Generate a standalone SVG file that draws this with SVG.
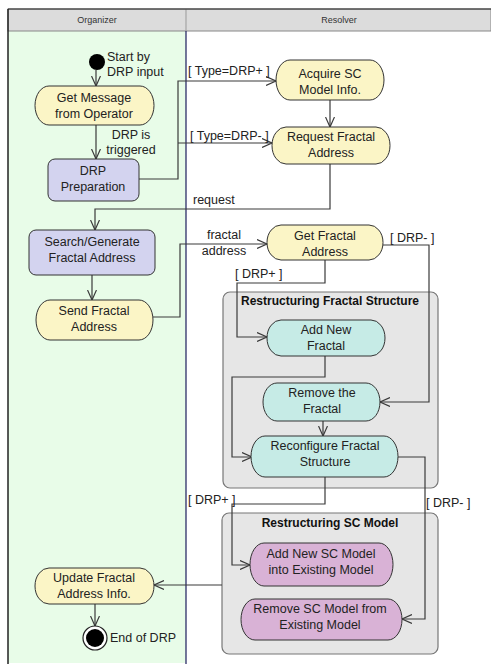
<svg xmlns="http://www.w3.org/2000/svg" width="491" height="664" viewBox="0 0 491 664">
  <defs>
    <marker id="arrow" markerUnits="userSpaceOnUse" markerWidth="12" markerHeight="10" refX="10" refY="5" orient="auto">
      <path d="M0,0.5 L10,5 L0,9.5" fill="none" stroke="#3a3a3a" stroke-width="1.2"/>
    </marker>
    <style>
      text { font-family: "Liberation Sans", Arial, sans-serif; font-size: 12.5px; fill: #222; }
      .c { text-anchor: middle; }
      .hdr { font-size: 9px; fill: #333; text-anchor: middle; }
      .title { font-weight: bold; font-size: 12px; text-anchor: middle; fill: #111; }
      .act { stroke: #333; stroke-width: 1; }
      .yel { fill: #fbf5c6; }
      .lav { fill: #d3d3ef; }
      .teal { fill: #c6ebe6; }
      .mauve { fill: #d9b2d6; }
      .box { fill: #e6e6e6; stroke: #777; stroke-width: 1.2; }
      #edges path { fill: none; stroke: #3a3a3a; stroke-width: 1.2; marker-end: url(#arrow); }
      #edges path.plain { marker-end: none; }
    </style>
  </defs>

  <!-- background and swimlanes -->
  <rect x="0" y="0" width="491" height="664" fill="#ffffff"/>
  <rect x="8" y="31" width="178" height="632" fill="#e8fce8"/>
  <rect x="8" y="9" width="483" height="22" fill="#dcdcdc" stroke="#888" stroke-width="1"/>
  <line x1="186" y1="9" x2="186" y2="31" stroke="#999" stroke-width="1"/>
  <line x1="186" y1="31" x2="186" y2="664" stroke="#1c1c5c" stroke-width="1.2"/>
  <line x1="8" y1="9" x2="8" y2="664" stroke="#222" stroke-width="1.5"/>
  <line x1="8" y1="9" x2="491" y2="9" stroke="#222" stroke-width="1"/>
  <text class="hdr" x="97" y="23">Organizer</text>
  <text class="hdr" x="339" y="23">Resolver</text>

  <!-- sub-activity containers -->
  <g id="restructuring-fractal">
    <rect class="box" x="223" y="292" width="215" height="196" rx="7"/>
    <text class="title" x="330" y="305">Restructuring Fractal Structure</text>
  </g>
  <g id="restructuring-sc">
    <rect class="box" x="222" y="513" width="216" height="141" rx="7"/>
    <text class="title" x="330" y="527">Restructuring SC Model</text>
  </g>

  <!-- connectors -->
  <g id="edges">
    <path d="M96,70 V86"/>
    <path d="M96,125 V159"/>
    <path d="M139,179 H178 V81 H276"/>
    <path d="M178,143 H272"/>
    <path d="M330,100 V127"/>
    <path d="M330,164 V209 H95 V230"/>
    <path d="M92,275 V300"/>
    <path d="M153,317 H180 V244 H267"/>
    <path d="M383,245 H429 V402 H380"/>
    <path d="M325,260 V283 H237 V337 H267"/>
    <path d="M325,356 V377 H232 V457 H252"/>
    <path d="M323,421 V436"/>
    <path d="M398,457 H425 V619 H402"/>
    <path d="M325,477 V504 H232 V565 H250"/>
    <path d="M222,585 H154"/>
    <path d="M95,604 V626"/>
  </g>

  <!-- connector labels -->
  <g id="labels">
    <text x="131" y="139" class="c">DRP is</text>
    <text x="131" y="154" class="c">triggered</text>
    <text x="188" y="75">[ Type=DRP+ ]</text>
    <text x="190" y="140">[ Type=DRP- ]</text>
    <text x="193" y="204">request</text>
    <text x="224" y="239" class="c">fractal</text>
    <text x="224" y="255" class="c">address</text>
    <text x="390" y="242">[ DRP- ]</text>
    <text x="235" y="278">[ DRP+ ]</text>
    <text x="188" y="504">[ DRP+ ]</text>
    <text x="426" y="507">[ DRP- ]</text>
  </g>

  <!-- start / end -->
  <g id="start">
    <circle cx="97" cy="62" r="8" fill="#000"/>
    <text x="107" y="61">Start by</text>
    <text x="107" y="76">DRP input</text>
  </g>
  <g id="end">
    <circle cx="95" cy="638" r="12" fill="#fff" stroke="#222" stroke-width="1.2"/>
    <circle cx="95" cy="638" r="9" fill="#000"/>
    <text x="110" y="642">End of DRP</text>
  </g>

  <!-- organizer activities -->
  <g id="get-message">
    <path class="act yel" d="M49,86 H140 A14,19.5 0 0 1 140,125 H49 A14,19.5 0 0 1 49,86 Z"/>
    <text class="c" x="94" y="102">Get Message</text>
    <text class="c" x="94" y="118">from Operator</text>
  </g>
  <g id="drp-preparation">
    <rect class="act lav" x="48" y="159" width="91" height="42" rx="7"/>
    <text class="c" x="93" y="175">DRP</text>
    <text class="c" x="93" y="191">Preparation</text>
  </g>
  <g id="search-generate">
    <rect class="act lav" x="29" y="230" width="126" height="45" rx="7"/>
    <text class="c" x="92" y="246">Search/Generate</text>
    <text class="c" x="92" y="262">Fractal Address</text>
  </g>
  <g id="send-fractal">
    <path class="act yel" d="M50,300 H139 A14,20 0 0 1 139,340 H50 A14,20 0 0 1 50,300 Z"/>
    <text class="c" x="94" y="315">Send Fractal</text>
    <text class="c" x="94" y="331">Address</text>
  </g>
  <g id="update-fractal">
    <path class="act yel" d="M49,568 H140 A14,18 0 0 1 140,604 H49 A14,18 0 0 1 49,568 Z"/>
    <text class="c" x="94" y="582">Update Fractal</text>
    <text class="c" x="94" y="598">Address Info.</text>
  </g>

  <!-- resolver activities -->
  <g id="acquire-sc">
    <path class="act yel" d="M290,60 H370 A14,20 0 0 1 370,100 H290 A14,20 0 0 1 290,60 Z"/>
    <text class="c" x="330" y="78">Acquire SC</text>
    <text class="c" x="330" y="94">Model Info.</text>
  </g>
  <g id="request-fractal">
    <path class="act yel" d="M286,127 H376 A14,18.5 0 0 1 376,164 H286 A14,18.5 0 0 1 286,127 Z"/>
    <text class="c" x="331" y="141">Request Fractal</text>
    <text class="c" x="331" y="157">Address</text>
  </g>
  <g id="get-fractal">
    <path class="act yel" d="M281,225 H369 A14,17.5 0 0 1 369,260 H281 A14,17.5 0 0 1 281,225 Z"/>
    <text class="c" x="325" y="240">Get Fractal</text>
    <text class="c" x="325" y="256">Address</text>
  </g>
  <g id="add-new-fractal">
    <path class="act teal" d="M281,320 H371 A14,18 0 0 1 371,356 H281 A14,18 0 0 1 281,320 Z"/>
    <text class="c" x="326" y="334">Add New</text>
    <text class="c" x="326" y="350">Fractal</text>
  </g>
  <g id="remove-fractal">
    <path class="act teal" d="M277,383 H366 A14,19 0 0 1 366,421 H277 A14,19 0 0 1 277,383 Z"/>
    <text class="c" x="322" y="397">Remove the</text>
    <text class="c" x="322" y="413">Fractal</text>
  </g>
  <g id="reconfigure-fractal">
    <path class="act teal" d="M265,436 H384 A14,20.5 0 0 1 384,477 H265 A14,20.5 0 0 1 265,436 Z"/>
    <text class="c" x="325" y="450">Reconfigure Fractal</text>
    <text class="c" x="325" y="466">Structure</text>
  </g>
  <g id="add-new-sc">
    <path class="act mauve" d="M264,543 H379 A14,21.5 0 0 1 379,586 H264 A14,21.5 0 0 1 264,543 Z"/>
    <text class="c" x="321" y="558">Add New SC Model</text>
    <text class="c" x="321" y="574">into Existing Model</text>
  </g>
  <g id="remove-sc">
    <path class="act mauve" d="M255,599 H388 A14,20.5 0 0 1 388,640 H255 A14,20.5 0 0 1 255,599 Z"/>
    <text class="c" x="320" y="613">Remove SC Model from</text>
    <text class="c" x="320" y="629">Existing Model</text>
  </g>
</svg>
